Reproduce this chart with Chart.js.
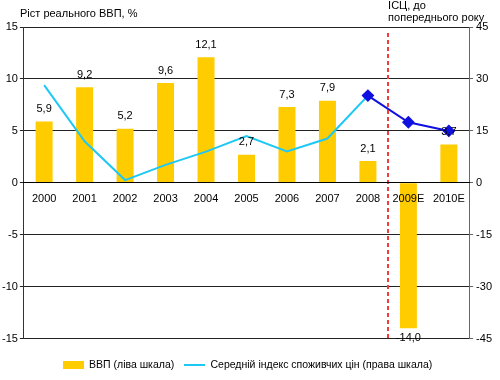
<!DOCTYPE html>
<html>
<head>
<meta charset="utf-8">
<script src="https://cdn.jsdelivr.net/npm/chart.js@4.4.1/dist/chart.umd.min.js"></script>
<style>
  html, body { margin: 0; padding: 0; background: #fff; }
</style>
</head>
<body>
<canvas id="chart" width="500" height="380"></canvas>
<script>
// Data
const years = ['2000', '2001', '2002', '2003', '2004', '2005', '2006', '2007', '2008', '2009E', '2010E'];
const gdpGrowth = [5.9, 9.2, 5.2, 9.6, 12.1, 2.7, 7.3, 7.9, 2.1, -14.0, 3.7];
const cpiIndex = [28.2, 12.0, 0.8, 5.2, 9.0, 13.5, 9.1, 12.8, 25.2, 17.5, 15.0];
const forecastFrom = 8; // line turns dark blue after 2008
const leftRange = [-15, 15, 5];
const rightRange = [-45, 45, 15];
const leftTitle = 'Ріст реального ВВП, %';
const rightTitle = ['ІСЦ, до', 'попереднього року'];
const legendLabels = ['ВВП (ліва шкала)', 'Середній індекс споживчих цін (права шкала)'];

const FONT = 'Liberation Sans, Arial, sans-serif';
const barColor = '#ffcc00';
const cpiColor = '#1ec8f5';
const forecastColor = '#1010e0';

// Small canvases used as legend symbols
function legendSwatch(w, h, color) {
    const c = document.createElement('canvas');
    c.width = w;
    c.height = h;
    const g = c.getContext('2d');
    g.fillStyle = color;
    g.fillRect(0, 0, w, h);
    return c;
}

// Value labels above / below bars
const barValueLabels = {
    id: 'barValueLabels',
    afterDatasetsDraw(chart) {
        const ctx = chart.ctx;
        const meta = chart.getDatasetMeta(0);
        ctx.save();
        ctx.font = '11px ' + FONT;
        ctx.fillStyle = '#000';
        ctx.textAlign = 'center';
        meta.data.forEach((bar, i) => {
            const v = gdpGrowth[i];
            const text = v.toFixed(1).replace('.', ',');
            if (v >= 0) {
                ctx.textBaseline = 'bottom';
                ctx.fillText(text, bar.x, bar.y - 7);
            } else {
                ctx.textBaseline = 'top';
                ctx.fillText(text, bar.x, bar.y + 4);
            }
        });
        ctx.restore();
    }
};

// Red dashed line between actual and forecast years
const forecastDivider = {
    id: 'forecastDivider',
    afterDatasetsDraw(chart) {
        const ctx = chart.ctx;
        const xs = chart.scales.x;
        const area = chart.chartArea;
        const x = Math.round((xs.getPixelForValue(forecastFrom) + xs.getPixelForValue(forecastFrom + 1)) / 2);
        ctx.save();
        ctx.strokeStyle = '#f03c3c';
        ctx.lineWidth = 2;
        ctx.setLineDash([4, 3]);
        ctx.beginPath();
        ctx.moveTo(x, area.top + 6);
        ctx.lineTo(x, area.bottom);
        ctx.stroke();
        ctx.restore();
    }
};

// Axis titles at the top corners
const axisTitles = {
    id: 'axisTitles',
    afterDraw(chart) {
        const ctx = chart.ctx;
        const area = chart.chartArea;
        ctx.save();
        ctx.font = '11px ' + FONT;
        ctx.fillStyle = '#000';
        ctx.textBaseline = 'middle';
        ctx.textAlign = 'left';
        ctx.fillText(leftTitle, 20, 14);
        ctx.fillText(rightTitle[0], area.right - 81, 6);
        ctx.fillText(rightTitle[1], area.right - 81, 18);
        ctx.restore();
    }
};

new Chart(document.getElementById('chart'), {
    type: 'bar',
    data: {
        labels: years,
        datasets: [
            {
                type: 'bar',
                label: legendLabels[0],
                data: gdpGrowth,
                backgroundColor: barColor,
                borderWidth: 0,
                barPercentage: 0.42,
                categoryPercentage: 1,
                yAxisID: 'y',
                order: 1
            },
            {
                type: 'line',
                label: legendLabels[1],
                data: cpiIndex,
                borderColor: cpiColor,
                borderWidth: 2,
                tension: 0,
                fill: false,
                segment: {
                    borderColor: ctx => ctx.p0DataIndex >= forecastFrom ? forecastColor : cpiColor
                },
                pointStyle: 'rectRot',
                pointRadius: ctx => ctx.dataIndex >= forecastFrom ? 5 : 0,
                pointBackgroundColor: forecastColor,
                pointBorderColor: forecastColor,
                yAxisID: 'y1',
                order: 0
            }
        ]
    },
    options: {
        responsive: false,
        animation: false,
        layout: {
            padding: { left: 0, right: 5, top: 27, bottom: 0 }
        },
        scales: {
            x: {
                position: { y: 0 },
                grid: { display: false, drawTicks: false },
                border: { display: true, color: '#000', width: 1, z: 1 },
                ticks: {
                    z: 1,
                    color: '#000',
                    font: { family: FONT, size: 11 },
                    padding: 10,
                    maxRotation: 0,
                    autoSkip: false
                }
            },
            y: {
                position: 'left',
                min: leftRange[0],
                max: leftRange[1],
                ticks: {
                    stepSize: leftRange[2],
                    color: '#000',
                    font: { family: FONT, size: 11 },
                    padding: 2
                },
                grid: { color: '#222', tickLength: 4 },
                border: { color: '#333' }
            },
            y1: {
                position: 'right',
                min: rightRange[0],
                max: rightRange[1],
                ticks: {
                    stepSize: rightRange[2],
                    color: '#000',
                    font: { family: FONT, size: 11 },
                    padding: 3
                },
                grid: { display: true, drawOnChartArea: false, color: '#666', tickLength: 4 },
                border: { color: '#666' }
            }
        },
        plugins: {
            tooltip: { enabled: false },
            legend: {
                position: 'bottom',
                title: { display: true, text: ' ', font: { size: 9 }, padding: 0 },
                labels: {
                    usePointStyle: true,
                    pointStyleWidth: 21,
                    boxHeight: 8,
                    padding: 10,
                    color: '#000',
                    font: { family: FONT, size: 10.5 },
                    generateLabels: () => [
                        { text: legendLabels[0], fontColor: '#000', pointStyle: legendSwatch(21, 8, barColor), datasetIndex: 0, hidden: false },
                        { text: legendLabels[1], fontColor: '#000', pointStyle: legendSwatch(21, 2, cpiColor), datasetIndex: 1, hidden: false }
                    ]
                }
            }
        }
    },
    plugins: [barValueLabels, forecastDivider, axisTitles]
});
</script>
</body>
</html>
